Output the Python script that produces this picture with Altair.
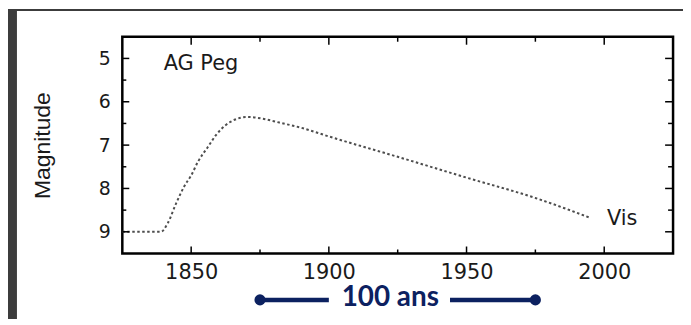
import altair as alt
import pandas as pd

# --- data ---
years = [1825, 1839, 1841.5, 1844.5, 1847.5, 1850, 1852.5, 1856, 1859, 1862.5,
         1866, 1870, 1876, 1882, 1890, 1900, 1925, 1950, 1975, 1995]
mags = [9.0, 9.0, 8.8, 8.35, 7.95, 7.7, 7.38, 7.05, 6.77, 6.54,
        6.41, 6.35, 6.39, 6.48, 6.6, 6.8, 7.27, 7.75, 8.22, 8.68]

x_major = [1850, 1900, 1950, 2000]
x_minor = [1875, 1925, 1975]
y_major = [5, 6, 7, 8, 9]
y_minor = [5.5, 6.5, 7.5, 8.5]

span_years = [1875, 1975]        # the "100 ans" bar
span_label = "100 ans"

W, H = 554, 218
PAD = {"left": 115, "top": 28, "right": 10, "bottom": 66}
TXT = "#1a1a1a"
NAVY = "#0c2160"

xscale = alt.Scale(domain=[1825, 2025], nice=False, zero=False)
yscale = alt.Scale(domain=[4.5, 9.5], reverse=True, nice=False, zero=False)

xaxis = alt.Axis(values=x_major, format="d", ticks=False, domain=False, grid=False,
                 tickSize=0, labelPadding=8, labelFont="DejaVu Sans",
                 labelFontSize=21, labelColor=TXT, title=None, labelFlush=False)
yaxis = alt.Axis(values=y_major, ticks=False, domain=False, grid=False,
                 tickSize=0, labelPadding=12, labelFont="DejaVu Sans",
                 labelFontSize=19, labelColor=TXT, title="Magnitude",
                 titleFont="Liberation Sans", titleFontSize=23,
                 titleFontWeight="normal", titleColor=TXT,
                 titleAngle=270, titleX=-80, titleY=H / 2,
                 titleAlign="center", titleBaseline="middle", labelFlush=False)

curve = pd.DataFrame({"year": years, "mag": mags})

line = alt.Chart(curve).mark_line(
    color="#4d4d4d", strokeWidth=2, strokeDash=[2.5, 2.5], interpolate="monotone"
).encode(
    x=alt.X("year:Q", scale=xscale, axis=xaxis),
    y=alt.Y("mag:Q", scale=yscale, axis=yaxis),
)


def yticks(vals, length, right=False):
    df = pd.DataFrame({"v": vals})
    if right:
        xa, xb = alt.value(W - length), alt.value(W)
    else:
        xa, xb = alt.value(0), alt.value(length)
    return alt.Chart(df).mark_rule(color="black", strokeWidth=1.5).encode(
        y=alt.Y("v:Q", scale=yscale, axis=yaxis), x=xa, x2=xb)


def xticks(vals, length, top=False):
    df = pd.DataFrame({"v": vals})
    if top:
        ya, yb = alt.value(0), alt.value(length)
    else:
        ya, yb = alt.value(H - length), alt.value(H)
    return alt.Chart(df).mark_rule(color="black", strokeWidth=1.5).encode(
        x=alt.X("v:Q", scale=xscale, axis=xaxis), y=ya, y2=yb)


ticks = [
    yticks(y_major, 7), yticks(y_minor, 4),
    yticks(y_major, 8, right=True), yticks(y_minor, 5, right=True),
    xticks(x_major, 7), xticks(x_minor, 4),
    xticks(x_major, 8, top=True), xticks(x_minor, 5, top=True),
]

ag = alt.Chart().mark_text(
    text="AG Peg", font="DejaVu Sans", fontSize=21, color=TXT, align="left", baseline="alphabetic"
).encode(x=alt.datum(1840, scale=xscale, axis=xaxis), y=alt.datum(5.26, scale=yscale, axis=yaxis))

vis = alt.Chart().mark_text(
    text="Vis", font="DejaVu Sans", fontSize=21, color=TXT, align="left", baseline="alphabetic"
).encode(x=alt.datum(2001, scale=xscale, axis=xaxis), y=alt.datum(8.85, scale=yscale, axis=yaxis))

# "100 ans" scale bar below the axis
span = pd.DataFrame({"year": span_years})
BAR_Y = 264.7
dots = alt.Chart(span).mark_circle(size=125, color=NAVY, opacity=1).encode(
    x=alt.X("year:Q", scale=xscale, axis=xaxis), y=alt.value(BAR_Y))
seg_left = alt.Chart().mark_rule(color=NAVY, strokeWidth=4.5).encode(
    x=alt.datum(span_years[0], scale=xscale, axis=xaxis), x2=alt.datum(1900), y=alt.value(BAR_Y))
seg_right = alt.Chart().mark_rule(color=NAVY, strokeWidth=4.5).encode(
    x=alt.datum(1944, scale=xscale, axis=xaxis), x2=alt.datum(span_years[1]), y=alt.value(BAR_Y))
bar_text = alt.Chart().mark_text(
    text=span_label, font="Lato", fontWeight="bold", fontSize=28, color=NAVY,
    align="center", baseline="alphabetic"
).encode(x=alt.datum(1922.3, scale=xscale, axis=xaxis), y=alt.value(271))

# dark frame of the slide (left and top bands)
frame_left = alt.Chart().mark_rect(color="#3c3c3c").encode(
    x=alt.value(-PAD["left"]), x2=alt.value(-PAD["left"] + 9),
    y=alt.value(-PAD["top"]), y2=alt.value(H + PAD["bottom"]))
frame_top = alt.Chart().mark_rect(color="#3c3c3c").encode(
    x=alt.value(-PAD["left"]), x2=alt.value(W + PAD["right"]),
    y=alt.value(-PAD["top"]), y2=alt.value(-PAD["top"] + 2))

chart = alt.layer(
    line, *ticks, ag, vis, seg_left, seg_right, dots, bar_text, frame_left, frame_top
).properties(
    width=W, height=H,
    padding=PAD,
    autosize=alt.AutoSizeParams(type="none"),
    background="white",
).configure_view(
    stroke="black", strokeWidth=2.5
)

chart.save("out.html", embed_options={"renderer": "svg", "actions": False})
